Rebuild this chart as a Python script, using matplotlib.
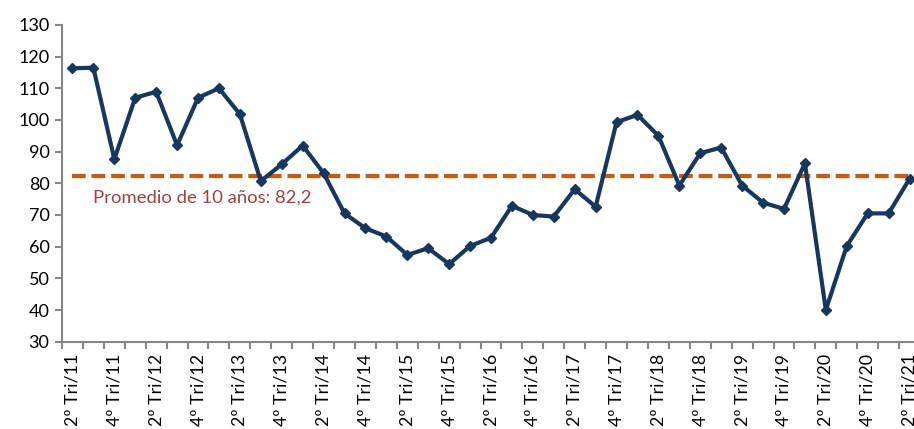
import matplotlib.pyplot as plt

# quarterly index, 2º Tri/11 .. 2º Tri/21
quarters = []
for year in range(11, 22):
    for q in range(1, 5):
        quarters.append(f"{q}º Tri/{year}")
quarters = quarters[1:42]

values = [116.3, 116.5, 87.6, 107.0, 108.9, 92.0, 107.0, 110.0, 101.8, 80.7,
          86.0, 91.9, 83.2, 70.5, 65.8, 63.2, 57.4, 59.5, 54.5, 60.2,
          62.8, 72.9, 70.0, 69.5, 78.1, 72.6, 99.3, 101.6, 95.0, 79.3,
          89.5, 91.3, 79.3, 73.9, 71.9, 86.3, 40.0, 60.2, 70.5, 70.5,
          81.4]
average = 82.2
avg_label = "Promedio de 10 años: 82,2"

plt.rcParams['font.family'] = ['Lato', 'DejaVu Sans']

fig = plt.figure(figsize=(9.14, 4.29), dpi=100)
# axis runs a little past the right edge like in the original crop
ax = fig.add_axes([62 / 914, 1 - 341.7 / 429, 858 / 914, (341.7 - 24.9) / 429])

x = list(range(len(values)))
ax.plot(x, values, color='#17375E', lw=3.0, marker='D', ms=5, zorder=3)
ax.plot([x[0], x[-1] + 1], [average, average], color='#C55A11', lw=3.0,
        dashes=(3.3, 1.4), zorder=2)
ax.text(1, average - 6.6, avg_label, color='#A0403F', fontsize=13.3,
        va='center', ha='left')

ax.set_xlim(-0.5, len(values) - 0.5)
ax.set_ylim(30, 130)
ax.set_yticks(range(30, 131, 10))

ax.set_xticks([i - 0.5 for i in range(len(values) + 1)], minor=False)
ax.set_xticklabels([])
ax.set_xticks(x[::2], minor=True)
ax.set_xticklabels(quarters[::2], minor=True, rotation=90, fontsize=12.8,
                   va='top')
ax.tick_params(axis='x', which='minor', length=0, pad=9)
ax.tick_params(axis='x', which='major', length=5, width=1.5, color='#868686')
ax.tick_params(axis='y', length=5, width=1.5, color='#868686',
               labelsize=13, pad=4)

for s in ['top', 'right']:
    ax.spines[s].set_visible(False)
for s in ['left', 'bottom']:
    ax.spines[s].set_color('#868686')
    ax.spines[s].set_linewidth(1.5)

fig.savefig('out.png', dpi=100)
